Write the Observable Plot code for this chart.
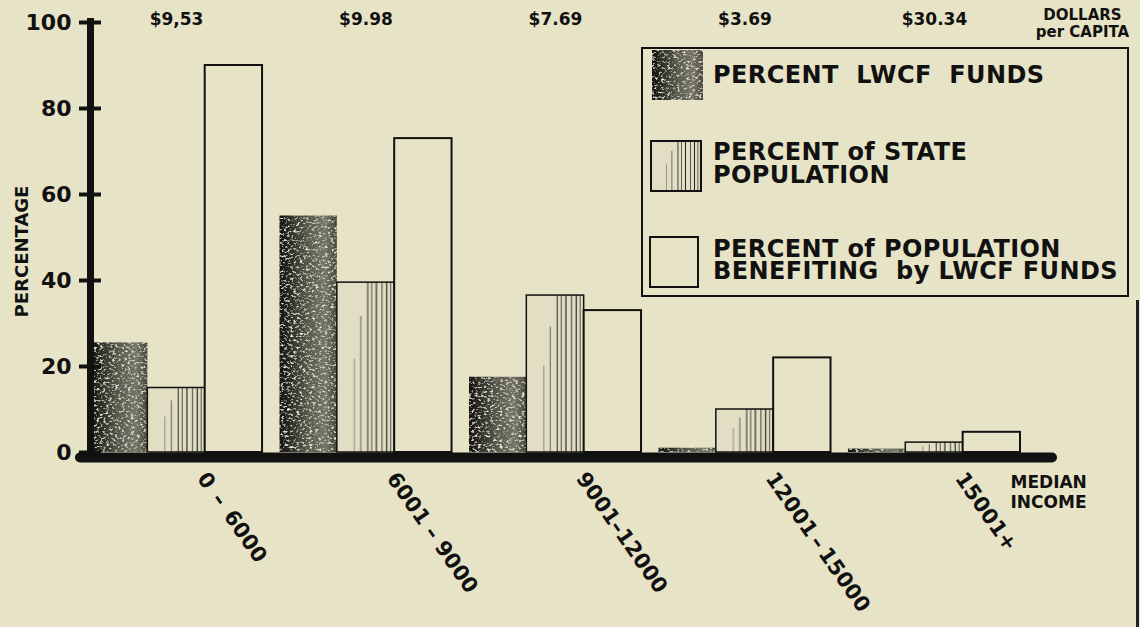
<!DOCTYPE html>
<html>
<head>
<meta charset="utf-8">
<script src="https://cdn.jsdelivr.net/npm/d3@7"></script>
<script src="https://cdn.jsdelivr.net/npm/@observablehq/plot@0.6"></script>
<style>
  html, body { margin: 0; padding: 0; background: #e7e3c6; }
  #wrap { position: relative; width: 1140px; height: 627px; overflow: hidden; background: #e7e3c6;
          font-family: "DejaVu Sans", sans-serif; font-weight: bold; color: #111; }
  #chart { position: absolute; left: 0; top: 0; }
  .abs { position: absolute; }
  .legend-box { position: absolute; left: 641px; top: 47px; width: 488px; height: 250px;
                box-sizing: border-box; border: 2px solid #111; }
  .ltext { position: absolute; left: 713px; font-size: 24px; white-space: pre; color: #111; letter-spacing: 0.4px; }
  .edge { position: absolute; left: 1136px; top: 300px; width: 3px; height: 327px; background: #222; }
</style>
</head>
<body>
<svg width="0" height="0" style="position:absolute">
  <defs>
    <linearGradient id="darkGrad" x1="0" x2="1" y1="0" y2="0">
      <stop offset="0" stop-color="#121210"/>
      <stop offset="0.14" stop-color="#26261f"/>
      <stop offset="0.5" stop-color="#5a5a4d"/>
      <stop offset="0.8" stop-color="#767665"/>
      <stop offset="1" stop-color="#45453b"/>
    </linearGradient>
    <filter id="grain" x="-5%" y="-5%" width="110%" height="110%">
      <feTurbulence type="fractalNoise" baseFrequency="0.32 0.45" numOctaves="3" seed="7" result="noise"/>
      <feColorMatrix in="noise" type="matrix"
        values="0 0 0 0 0.9  0 0 0 0 0.89  0 0 0 0 0.82  3.6 0 0 0 -1.95" result="specks"/>
      <feComposite in="specks" in2="SourceGraphic" operator="in" result="clipped"/>
      <feMerge><feMergeNode in="SourceGraphic"/><feMergeNode in="clipped"/></feMerge>
    </filter>
    <pattern id="stripeFill" patternUnits="objectBoundingBox" patternContentUnits="objectBoundingBox" x="0" y="0" width="1" height="1">
      <rect x="0" y="0" width="1" height="1" fill="#e2dec3"/>
      <rect x="0.30" y="0.45" width="0.014" height="0.55" fill="#777"/>
      <rect x="0.41" y="0.2" width="0.016" height="0.8" fill="#555"/>
      <rect x="0.53" y="0" width="0.018" height="1" fill="#333"/>
      <rect x="0.60" y="0" width="0.016" height="1" fill="#444"/>
      <rect x="0.68" y="0" width="0.02" height="1" fill="#222"/>
      <rect x="0.78" y="0" width="0.016" height="1" fill="#333"/>
      <rect x="0.86" y="0" width="0.02" height="1" fill="#222"/>
      <rect x="0.93" y="0" width="0.016" height="1" fill="#444"/>
    </pattern>
  </defs>
</svg>

<div id="wrap">
  <div id="chart"></div>
  <div class="legend-box"></div>
  <svg class="abs" style="left:652px;top:50px" width="51" height="50">
    <g filter="url(#grain)"><rect x="0" y="0" width="51" height="50" fill="url(#darkGrad)"/></g>
  </svg>
  <div class="ltext" id="leg1" style="top:64px;line-height:22px"></div>
  <svg class="abs" style="left:650px;top:140px" width="52" height="52">
    <rect x="1" y="1" width="50" height="50" fill="url(#stripeFill)" stroke="#111" stroke-width="2"/>
  </svg>
  <div class="ltext" id="leg2" style="top:141px;line-height:23px"></div>
  <svg class="abs" style="left:649px;top:236px" width="52" height="53">
    <rect x="1" y="1" width="48" height="50" fill="#e7e3c6" stroke="#111" stroke-width="2"/>
  </svg>
  <div class="ltext" id="leg3" style="top:239px;line-height:21.5px"></div>
  <div class="edge"></div>
</div>

<script>
// ---- data ----
const groups = ["0\u2002\u2013\u20026000", "6001 \u2013 9000", "9001\u201312000", "12001\u2009\u2013\u200915000", "15001+"];
const lwcfFunds = [25.5, 55, 17.5, 1, 0.8];
const statePopulation = [15, 39.5, 36.5, 10, 2.3];
const benefitingPopulation = [90, 73, 33, 22, 4.7];
const dollarsPerCapita = ["$9,53", "$9.98", "$7.69", "$3.69", "$30.34"];
const yTicks = [0, 20, 40, 60, 80, 100];
const seriesNames = ["PERCENT  LWCF  FUNDS", "PERCENT of STATE\nPOPULATION", "PERCENT of POPULATION\nBENEFITING  by LWCF FUNDS"];
const yLabel = "PERCENTAGE";
const xLabel = "MEDIAN\nINCOME";
const topLabel = "DOLLARS\nper CAPITA";

// legend texts
document.getElementById("leg1").textContent = seriesNames[0];
document.getElementById("leg2").textContent = seriesNames[1];
document.getElementById("leg3").textContent = seriesNames[2];

const rows = groups.map((g, i) => ({
  group: g,
  lwcf: lwcfFunds[i],
  state: statePopulation[i],
  benefit: benefitingPopulation[i],
  dollars: dollarsPerCapita[i]
}));

const W = 1140, H = 627;
const mL = 90, mR = 120, mT = 22, mB = 175;
const xOpts = {type: "band", domain: groups, paddingInner: 0.092, paddingOuter: 0, align: 0.5, round: false};
const bw = Plot.scale({x: {...xOpts, range: [mL, W - mR]}}).bandwidth;
const third = bw / 3;
const ink = "#111";

const chart = Plot.plot({
  width: W,
  height: H,
  marginLeft: mL,
  marginRight: mR,
  marginTop: mT,
  marginBottom: mB,
  style: {background: "transparent", fontFamily: "DejaVu Sans", fontWeight: "bold", color: ink, overflow: "visible"},
  x: {...xOpts, axis: null},
  y: {domain: [0, 100], axis: null},
  marks: [
    Plot.barY(rows, {x: "group", y: "lwcf", fill: "url(#darkGrad)", insetRight: 2 * third}),
    Plot.barY(rows, {x: "group", y: "state", fill: "url(#stripeFill)", stroke: ink, strokeWidth: 1.5, insetLeft: third, insetRight: third}),
    Plot.barY(rows, {x: "group", y: "benefit", fill: "#e7e3c6", stroke: ink, strokeWidth: 2, insetLeft: 2 * third}),
    // baseline (x axis line)
    Plot.ruleY([0], {stroke: ink, strokeWidth: 10, dy: 5, insetLeft: -10, insetRight: -32, strokeLinecap: "round"}),
    // vertical y axis line
    Plot.ruleX([groups[0]], {stroke: ink, strokeWidth: 7, dx: -bw / 2, insetTop: -4, insetBottom: -10}),
    Plot.axisY(yTicks, {tickSize: 22, dx: 11, tickPadding: 8, fontSize: 22, fontWeight: "bold", strokeWidth: 4, color: ink, label: null}),
    // rotated x category labels
    Plot.text(groups, {x: d => d, text: d => d, frameAnchor: "bottom", rotate: 55, textAnchor: "start", dx: 20, dy: 26, fontSize: 21, fill: ink}),
    // dollars per capita
    Plot.text(rows, {x: "group", text: "dollars", frameAnchor: "top", lineAnchor: "middle", dy: -3, fontSize: 17, fill: ink}),
    Plot.text([yLabel], {text: d => d, frameAnchor: "left", rotate: -90, textAnchor: "middle", dx: -68, dy: 14, fontSize: 18, fill: ink}),
    Plot.text([xLabel], {text: d => d, frameAnchor: "bottom-right", textAnchor: "start", lineAnchor: "top", dx: -10, dy: 21, fontSize: 17, lineHeight: 1.18, fill: ink}),
    Plot.text([topLabel], {text: d => d, frameAnchor: "top-right", textAnchor: "middle", lineAnchor: "top", dx: 62, dy: -14, fontSize: 15, lineHeight: 1.1, fill: ink})
  ]
});

// apply the grain texture to the dark bars
chart.querySelectorAll('[fill="url(#darkGrad)"]').forEach(el => el.setAttribute("filter", "url(#grain)"));
document.getElementById("chart").appendChild(chart);
</script>
</body>
</html>
